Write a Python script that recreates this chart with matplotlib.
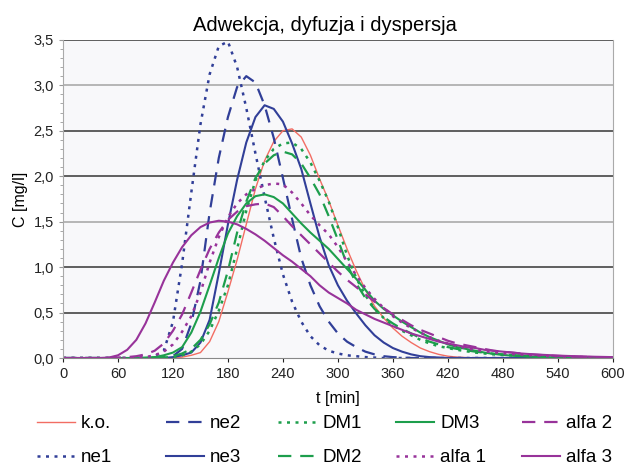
import matplotlib
matplotlib.use("Agg")
import matplotlib.pyplot as plt
from matplotlib.ticker import MultipleLocator

plt.rcParams['font.family'] = ['Liberation Sans', 'DejaVu Sans']

# czas co 10 min
t = list(range(0, 610, 10))

ko = [0, 0, 0, 0, 0, 0, 0, 0, 0, 0, 0, 0, 0,
      0.01, 0.03, 0.06, 0.18, 0.4, 0.73, 1.08, 1.47, 1.86, 2.17, 2.38, 2.5, 2.52, 2.43,
      2.23, 1.97, 1.73, 1.46, 1.2, 0.96, 0.75, 0.57, 0.44, 0.33, 0.24, 0.17, 0.11, 0.07,
      0.04, 0.02, 0.01, 0.005,
      0, 0, 0, 0, 0, 0, 0, 0, 0, 0, 0, 0, 0, 0, 0, 0]
ne1 = [0, 0, 0, 0, 0, 0, 0, 0, 0, 0,
       0.02, 0.08, 0.4, 1.04, 1.82, 2.57, 3.12, 3.43, 3.48, 3.2, 2.75, 2.25, 1.77, 1.32,
       0.92, 0.62, 0.4, 0.24, 0.14, 0.08, 0.05, 0.03, 0.02, 0.01, 0.005,
       0, 0, 0, 0, 0, 0, 0, 0, 0, 0, 0, 0, 0, 0, 0, 0, 0, 0, 0, 0, 0, 0, 0, 0, 0, 0]
ne2 = [0, 0, 0, 0, 0, 0, 0, 0, 0, 0, 0, 0,
       0.02, 0.1, 0.38, 0.85, 1.6, 2.2, 2.65, 2.98, 3.1, 3.03, 2.78, 2.42, 1.98, 1.53,
       1.1, 0.8, 0.57, 0.4, 0.27, 0.18, 0.12, 0.07, 0.04, 0.02, 0.01, 0.005,
       0, 0, 0, 0, 0, 0, 0, 0, 0, 0, 0, 0, 0, 0, 0, 0, 0, 0, 0, 0, 0, 0, 0]
ne3 = [0, 0, 0, 0, 0, 0, 0, 0, 0, 0, 0, 0,
       0.01, 0.03, 0.06, 0.17, 0.42, 0.93, 1.47, 1.96, 2.37, 2.65, 2.78, 2.74, 2.6, 2.36,
       2.08, 1.7, 1.33, 1.02, 0.8, 0.63, 0.49, 0.36, 0.25, 0.17, 0.11, 0.07, 0.04, 0.02,
       0.01, 0.005,
       0, 0, 0, 0, 0, 0, 0, 0, 0, 0, 0, 0, 0, 0, 0, 0, 0, 0, 0]
dm1 = [0, 0, 0, 0, 0, 0, 0, 0, 0, 0, 0,
       0.005, 0.01, 0.03, 0.07, 0.15, 0.3, 0.52, 0.8, 1.2, 1.62, 1.95, 2.17, 2.3, 2.36,
       2.37, 2.3, 2.15, 1.95, 1.72, 1.44, 1.13, 0.88, 0.69, 0.54, 0.44, 0.36, 0.3, 0.25,
       0.2, 0.16, 0.13, 0.11, 0.09, 0.075, 0.06, 0.05, 0.04, 0.035, 0.03, 0.025, 0.02,
       0.016, 0.013, 0.01, 0.008, 0.006, 0.005, 0.004, 0.003, 0.002]
dm2 = [0, 0, 0, 0, 0, 0, 0, 0, 0, 0,
       0.005, 0.01, 0.02, 0.05, 0.1, 0.2, 0.37, 0.61, 0.96, 1.38, 1.72, 1.98, 2.14, 2.23,
       2.27, 2.24, 2.14, 1.98, 1.8, 1.56, 1.3, 1.03, 0.82, 0.66, 0.54, 0.45, 0.38, 0.32,
       0.27, 0.22, 0.18, 0.15, 0.12, 0.1, 0.085, 0.07, 0.058, 0.048, 0.04, 0.033, 0.027,
       0.022, 0.018, 0.015, 0.012, 0.01, 0.008, 0.006, 0.005, 0.004, 0.003]
dm3 = [0, 0, 0, 0, 0, 0, 0, 0, 0,
       0.005, 0.01, 0.03, 0.06, 0.12, 0.28, 0.51, 0.8, 1.1, 1.37, 1.56, 1.7, 1.78, 1.8,
       1.77, 1.7, 1.59, 1.48, 1.38, 1.29, 1.2, 1.09, 0.98, 0.87, 0.75, 0.63, 0.54, 0.47,
       0.4, 0.34, 0.28, 0.23, 0.19, 0.15, 0.12, 0.1, 0.08, 0.06, 0.045, 0.035, 0.025,
       0.02, 0.015, 0.012, 0.009, 0.007, 0.005, 0.004, 0.003, 0.002, 0.002, 0.001]
alfa1 = [0, 0, 0, 0, 0, 0, 0, 0,
         0.005, 0.01, 0.03, 0.07, 0.15, 0.29, 0.46, 0.72, 1.05, 1.33, 1.55, 1.7, 1.8,
         1.86, 1.9, 1.92, 1.91, 1.82, 1.7, 1.57, 1.46, 1.36, 1.22, 1.06, 0.91, 0.77, 0.65,
         0.55, 0.46, 0.39, 0.33, 0.28, 0.23, 0.19, 0.16, 0.13, 0.11, 0.09, 0.075, 0.063,
         0.053, 0.045, 0.038, 0.032, 0.026, 0.022, 0.018, 0.015, 0.012, 0.01, 0.008,
         0.006, 0.005]
alfa2 = [0, 0, 0, 0, 0, 0,
         0.005, 0.01, 0.02, 0.04, 0.08, 0.16, 0.3, 0.48, 0.72, 0.97, 1.2, 1.38, 1.52,
         1.61, 1.67, 1.69, 1.7, 1.66, 1.56, 1.45, 1.35, 1.25, 1.15, 1.05, 0.95, 0.86,
         0.78, 0.7, 0.62, 0.55, 0.48, 0.42, 0.36, 0.31, 0.27, 0.23, 0.19, 0.16, 0.14,
         0.12, 0.1, 0.08, 0.07, 0.06, 0.05, 0.04, 0.034, 0.028, 0.023, 0.019, 0.015,
         0.012, 0.01, 0.008, 0.006]
alfa3 = [0, 0, 0, 0, 0,
         0.005, 0.03, 0.09, 0.2, 0.38, 0.61, 0.85, 1.05, 1.22, 1.35, 1.44, 1.49, 1.51,
         1.5, 1.47, 1.42, 1.36, 1.29, 1.21, 1.13, 1.06, 0.98, 0.9, 0.8, 0.72, 0.66, 0.6,
         0.53, 0.48, 0.43, 0.39, 0.35, 0.31, 0.27, 0.24, 0.21, 0.18, 0.16, 0.14, 0.12,
         0.11, 0.09, 0.08, 0.07, 0.06, 0.05, 0.043, 0.037, 0.032, 0.027, 0.023, 0.02,
         0.017, 0.014, 0.012, 0.01]

x_ticks = [0, 60, 120, 180, 240, 300, 360, 420, 480, 540, 600]
y_ticks = [0, 0.5, 1.0, 1.5, 2.0, 2.5, 3.0, 3.5]
y_labels = ['0,0', '0,5', '1,0', '1,5', '2,0', '2,5', '3,0', '3,5']

red = '#f26d63'
blue = '#313f98'
green = '#1d9e4c'
purple = '#98339a'
dot = (0, (1.2, 2.2))
dash = (0, (6, 4))

fig = plt.figure(figsize=(6.24, 4.68), dpi=100)
ax = fig.add_axes([0.101, 0.235, 0.881, 0.68])
ax.set_facecolor('#f8f8fa')

h_ko, = ax.plot(t, ko, color=red, lw=1.0, label='k.o.')
h_ne1, = ax.plot(t, ne1, color=blue, lw=1.8, ls=dot, label='ne1')
h_ne2, = ax.plot(t, ne2, color=blue, lw=1.6, ls=dash, label='ne2')
h_ne3, = ax.plot(t, ne3, color=blue, lw=1.5, label='ne3')
h_dm1, = ax.plot(t, dm1, color=green, lw=1.8, ls=dot, label='DM1')
h_dm2, = ax.plot(t, dm2, color=green, lw=1.6, ls=dash, label='DM2')
h_dm3, = ax.plot(t, dm3, color=green, lw=1.5, label='DM3')
h_a1, = ax.plot(t, alfa1, color=purple, lw=1.8, ls=dot, label='alfa 1')
h_a2, = ax.plot(t, alfa2, color=purple, lw=1.6, ls=dash, label='alfa 2')
h_a3, = ax.plot(t, alfa3, color=purple, lw=1.5, label='alfa 3')

ax.set_xlim(0, 600)
ax.set_ylim(0, 3.5)
ax.set_xticks(x_ticks)
ax.set_yticks(y_ticks)
ax.set_yticklabels(y_labels)
ax.yaxis.set_minor_locator(MultipleLocator(0.1))
ax.tick_params(axis='both', labelsize=10.5, colors='#222222', length=3, width=0.8)
ax.tick_params(axis='y', which='minor', length=2, color='#999999')
ax.tick_params(axis='y', color='#999999')

# poziome linie siatki
grid_colors = ['#444444', '#444444', '#444444', '#aaaaaa', '#444444', '#444444', '#aaaaaa', '#444444']
for y, c in zip(y_ticks, grid_colors):
    if y > 0:
        ax.axhline(y, color=c, lw=1.2, zorder=0.5)

for s in ['left', 'right']:
    ax.spines[s].set_color('#aaaaaa')
ax.spines['bottom'].set_color('#888888')
ax.spines['top'].set_visible(False)

ax.set_xlabel('t [min]', fontsize=11.5, labelpad=7)
ax.set_ylabel('C [mg/l]', fontsize=11.5, labelpad=4)
ax.set_title('Adwekcja, dyfuzja i dyspersja', fontsize=14.5, pad=6, x=0.476)

# legenda: 5 kolumn po 2 wpisy
columns = [[h_ko, h_ne1], [h_ne2, h_ne3], [h_dm1, h_dm2], [h_dm3, h_a1], [h_a2, h_a3]]
col_x = [37, 166, 278, 396, 522]
for hs, x in zip(columns, col_x):
    fig.legend(handles=hs, loc='upper left', bbox_to_anchor=(x / 624, 1 - 415 / 468),
               frameon=False, fontsize=13.5, handlelength=2.0, handletextpad=0.35,
               labelspacing=0.9, borderpad=0, borderaxespad=0)

fig.savefig('out.png', dpi=100)
